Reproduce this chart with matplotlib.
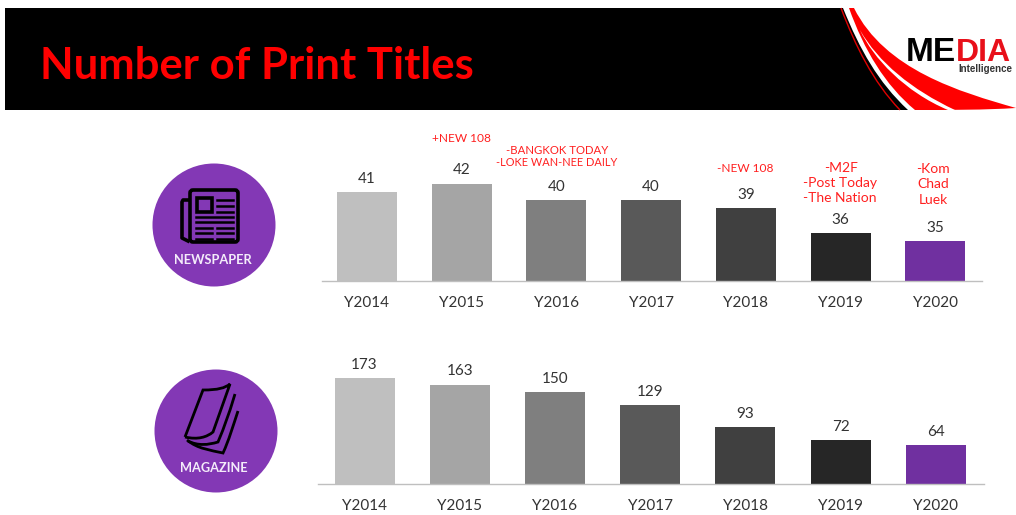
import matplotlib
matplotlib.use('Agg')
import matplotlib.pyplot as plt
import matplotlib.patches as mpatches
from matplotlib.path import Path

W, H = 1016, 515
YEARS = ['Y2014', 'Y2015', 'Y2016', 'Y2017', 'Y2018', 'Y2019', 'Y2020']
NEWSPAPER = [41, 42, 40, 40, 39, 36, 35]
MAGAZINE = [173, 163, 150, 129, 93, 72, 64]
BAR_COLORS = ['#bfbfbf', '#a5a5a5', '#7f7f7f', '#595959', '#404040', '#262626', '#7030a0']

RED = '#ff0000'
PURPLE = '#8338b5'
LABEL_FONT = 'Lato'

fig = plt.figure(figsize=(W / 100, H / 100), dpi=100, facecolor='white')

# page layer in pixel coordinates (y down)
bg = fig.add_axes([0, 0, 1, 1])
bg.set_xlim(0, W)
bg.set_ylim(H, 0)
bg.axis('off')


def curve_shape(verts, color, z=2):
    # verts: start point then groups of 3 cubic points
    codes = [Path.MOVETO] + [Path.CURVE4] * (len(verts) - 1)
    bg.add_patch(mpatches.PathPatch(Path(verts, codes), facecolor=color, edgecolor='none', zorder=z))


# ── header band ──────────────────────────────────
curve_shape([(5, 8), (300, 8), (600, 8), (843, 8),
             (860, 50), (878, 82), (908, 110),
             (600, 110), (300, 110), (5, 110)], 'black')
curve_shape([(849, 8), (864, 50), (885, 85), (915, 110),
             (950, 110), (985, 110), (1016, 108),
             (960, 92), (885, 70), (854, 8),
             (852, 8), (851, 8), (849, 8)], RED)
curve_shape([(860, 30), (873, 58), (905, 92), (948, 110),
             (950, 110), (953, 110), (955, 110),
             (912, 90), (878, 62), (860, 30)], 'white', z=3)
bg.add_patch(mpatches.PathPatch(Path([(841, 8), (855, 45), (873, 82), (900, 110)],
                                     [Path.MOVETO, Path.CURVE4, Path.CURVE4, Path.CURVE4]),
                                facecolor='none', edgecolor='#e00000', lw=1.0, zorder=3))

bg.text(40, 66, 'Number of Print Titles', color=RED, fontsize=31.4, fontweight='bold',
        family='Lato', ha='left', va='center', zorder=4)
bg.text(906, 61, 'ME', color='black', fontsize=24, fontweight='bold',
        family='Liberation Sans', ha='left', va='baseline', zorder=4)
bg.text(956, 61, 'DIA', color='#e8101a', fontsize=23, fontweight='bold',
        family='Liberation Sans', ha='left', va='baseline', zorder=4)
bg.text(1012, 68.5, 'Intelligence', color='#333333', fontsize=7, fontweight='bold',
        family='Liberation Sans', ha='right', va='center', zorder=4)

# ── category badges ──────────────────────────────
bg.add_patch(mpatches.Circle((214, 225), 61.5, facecolor=PURPLE, edgecolor='none'))
bg.add_patch(mpatches.Circle((216, 431), 61.5, facecolor=PURPLE, edgecolor='none'))
bg.text(212.5, 260, 'NEWSPAPER', color='#f4ecfa', fontsize=9.2, fontweight='bold',
        family='Lato', ha='center', va='center')
bg.text(214, 468, 'MAGAZINE', color='#f4ecfa', fontsize=9.2, fontweight='bold',
        family='Lato', ha='center', va='center')

# newspaper icon
bg.add_patch(mpatches.FancyBboxPatch((190, 190), 48, 52, boxstyle='round,pad=0,rounding_size=3',
                                     facecolor='none', edgecolor='black', lw=2.6, zorder=3))
bg.plot([189, 183, 182, 182, 188], [200, 200, 202, 238, 241], color='black', lw=2.6, zorder=3)
bg.add_patch(mpatches.Rectangle((197, 198), 15, 14, facecolor='none', edgecolor='black', lw=2.6, zorder=3))
for y in [200, 206, 212]:
    bg.plot([217, 233], [y, y], color='black', lw=1.8, zorder=3)
for y in [217, 222]:
    bg.plot([196, 233], [y, y], color='black', lw=1.8, zorder=3)
for y in [228, 233, 239]:
    bg.plot([196, 212], [y, y], color='black', lw=1.8, zorder=3)
    bg.plot([217, 233], [y, y], color='black', lw=1.8, zorder=3)

# magazine icon
curve_front = Path([(185, 437), (203, 390), (203, 390), (203, 390),
                    (218, 390), (225, 388), (230, 384),
                    (213, 432), (213, 432), (213, 432),
                    (207, 437), (198, 440), (185, 437)],
                   [Path.MOVETO] + [Path.CURVE4] * 12)
bg.add_patch(mpatches.PathPatch(curve_front, facecolor='none', edgecolor='black', lw=2, zorder=3))
for verts in ([(235, 394), (228, 417), (225, 425), (218, 442), (208, 445), (198, 446), (188, 441)],
              [(238, 411), (233, 426), (229, 440), (223, 453), (210, 450), (198, 449), (187, 440)]):
    bg.add_patch(mpatches.PathPatch(Path(verts, [Path.MOVETO] + [Path.CURVE4] * 6),
                                    facecolor='none', edgecolor='black', lw=2, zorder=3))


def bar_panel(left, right, top, base, x0, step, values, ymin, ymax, pad):
    ax = fig.add_axes([left / W, 1 - base / H, (right - left) / W, (base - top) / H])
    ax.patch.set_alpha(0)
    # x limits follow the pixel spacing of the bars
    ax.set_xlim((left - x0) / step, (right - x0) / step)
    ax.set_ylim(ymin, ymax)
    idx = list(range(len(values)))
    ax.bar(idx, values, width=60 / step, color=BAR_COLORS, edgecolor='none')
    for s in ['top', 'left', 'right']:
        ax.spines[s].set_visible(False)
    ax.spines['bottom'].set_color('#bfbfbf')
    ax.spines['bottom'].set_linewidth(1.0)
    ax.set_yticks([])
    ax.set_xticks(idx)
    ax.set_xticklabels(YEARS, fontsize=11, color='#333333', family=LABEL_FONT)
    ax.tick_params(axis='x', length=0, pad=pad)
    for i, v in enumerate(values):
        ax.annotate(str(v), (i, v), xytext=(0, 4.5), textcoords='offset points', ha='center', va='bottom',
                    fontsize=11, color='#333333', family=LABEL_FONT)
    return ax


bar_panel(322, 982, 120, 281, 367, 94.7, NEWSPAPER, 30.2, 49.7, 11)
bar_panel(318, 984, 340, 484, 364.5, 95.2, MAGAZINE, 0, 236, 10.5)

# ── red notes above the newspaper bars ───────────
NOTE_TEXT = ['+NEW 108', '-BANGKOK TODAY', '-LOKE WAN-NEE DAILY', '-NEW 108', '-M2F', '-Post Today', '-The Nation',
             '-Kom', 'Chad', 'Luek']
NOTE_X = [462, 557, 557, 745, 841, 840, 840, 933, 933, 933]
NOTE_Y = [139, 150, 163, 168, 168, 183, 198, 169, 184, 200]
NOTE_SIZE = [8.6, 8.2, 7.9, 8.6, 10, 10, 10, 10, 10, 10]
for txt, x, y, sz in zip(NOTE_TEXT, NOTE_X, NOTE_Y, NOTE_SIZE):
    bg.text(x, y, txt, color='#ff2020', fontsize=sz, family=LABEL_FONT, ha='center', va='center')

fig.savefig('out.png', dpi=100, facecolor='white')
